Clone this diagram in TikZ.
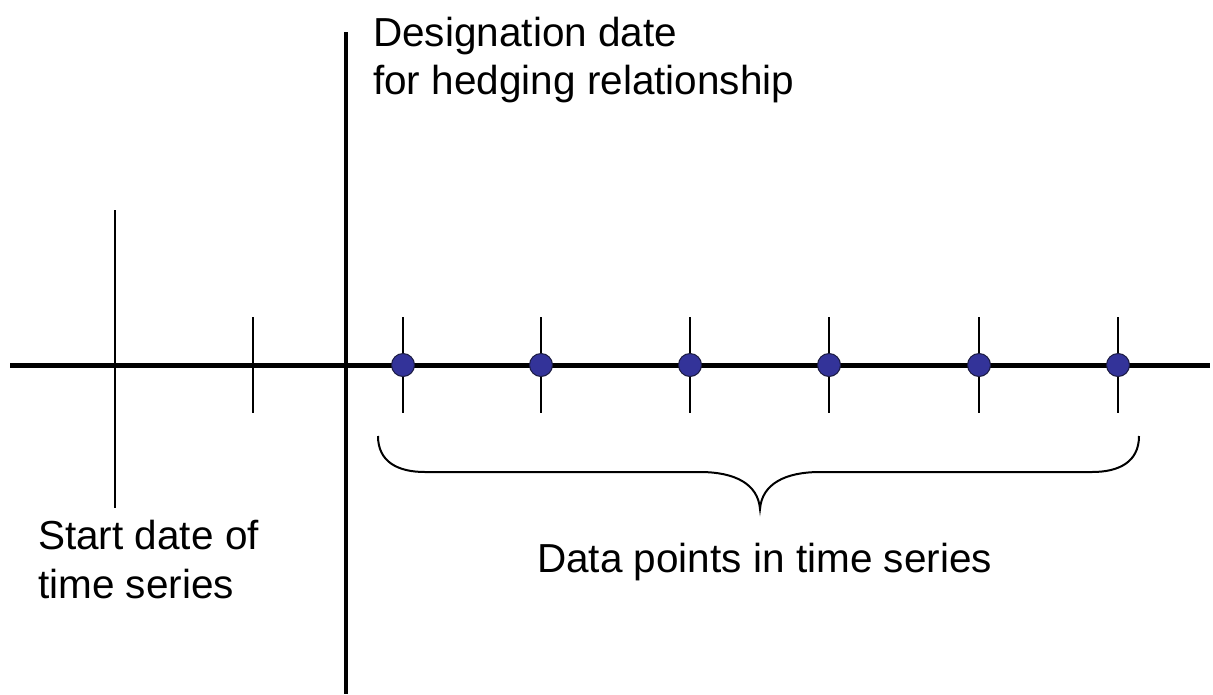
\documentclass[tikz,border=0pt]{standalone}
\usepackage{fontspec}
\setmainfont{Liberation Sans}
\definecolor{dotblue}{HTML}{333399}
\definecolor{dotedge}{HTML}{1A1A40}
\begin{document}
\begin{tikzpicture}[x=1pt,y=-1pt,
  axisline/.style={line width=5pt},
  designline/.style={line width=4.2pt},
  tickline/.style={line width=1.3pt},
  bracestyle/.style={line width=2pt},
  datadot/.style={circle,fill=dotblue,draw=dotedge,line width=1pt,minimum size=23pt,inner sep=0pt},
  lbl/.style={anchor=base west,inner sep=0pt,font=\fontsize{40.5}{41}\selectfont}]
\useasboundingbox (0,0) rectangle (1213,694);
% axis
\coordinate (axL) at (10,365);
\coordinate (axR) at (1210,365);
\draw[axisline] (axL) -- (axR);
% designation line
\coordinate (dTop) at (346,32);
\coordinate (dBot) at (346,694);
\draw[designline] (dTop) -- (dBot);
% start tick
\coordinate (sTop) at (115,210);
\coordinate (sBot) at (115,508);
\draw[tickline] (sTop) -- (sBot);
% second tick
\coordinate (t2Top) at (253,317);
\coordinate (t2Bot) at (253,413);
\draw[tickline] (t2Top) -- (t2Bot);
% data points
\foreach \i/\x in {1/403,2/541,3/690,4/829,5/979,6/1118}{
  \coordinate (p\i Top) at (\x,317);
  \coordinate (p\i Bot) at (\x,413);
  \draw[tickline] (p\i Top) -- (p\i Bot);
  \node[datadot] (p\i) at (\x,365) {};
}
% brace
\coordinate (bL) at (378,436);
\coordinate (bTip) at (760,509);
\coordinate (bR) at (1139,436);
\draw[bracestyle] (bL) .. controls (378,462) and (398,472) .. (425,472) -- (700,472)
  .. controls (735,472) and (758,484) .. (bTip)
  .. controls (762,484) and (785,472) .. (820,472) -- (1092,472)
  .. controls (1119,472) and (1139,462) .. (bR);
% labels
\node[lbl] (des1) at (373,46) {Designation date};
\node[lbl] (des2) at (373,94) {for hedging relationship};
\node[lbl] (st1) at (38,549) {Start date of};
\node[lbl] (st2) at (38,598) {time series};
\node[lbl] (data) at (537,572) {Data points in time series};
\end{tikzpicture}
\end{document}
